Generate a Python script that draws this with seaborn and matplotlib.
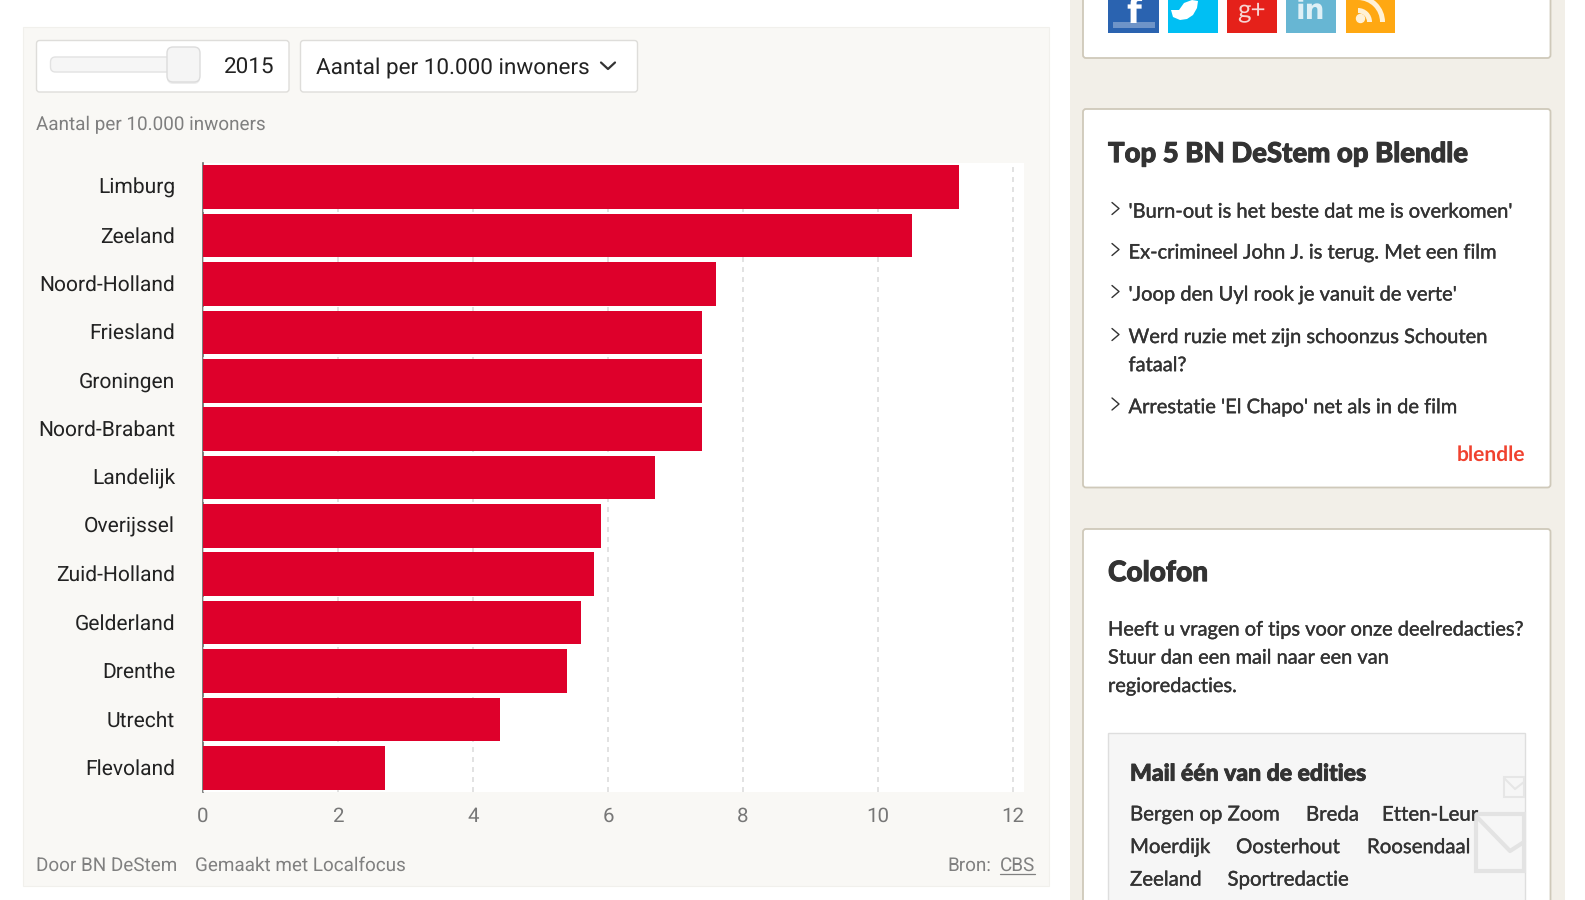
import matplotlib
matplotlib.use('Agg')
import matplotlib.pyplot as plt
import matplotlib.patheffects as pe
from matplotlib.transforms import ScaledTranslation
import seaborn as sns
from matplotlib.patches import Rectangle, FancyBboxPatch, Wedge, Polygon

# Data grafiek
provincies = ['Limburg', 'Zeeland', 'Noord-Holland', 'Friesland', 'Groningen', 'Noord-Brabant',
              'Landelijk', 'Overijssel', 'Zuid-Holland', 'Gelderland', 'Drenthe', 'Utrecht', 'Flevoland']
aantallen = [11.2, 10.5, 7.6, 7.4, 7.4, 7.4, 6.7, 5.9, 5.8, 5.6, 5.4, 4.4, 2.7]
x_ticks = [0, 2, 4, 6, 8, 10, 12]

# Tekst zijbalk
top5 = ["'Burn-out is het beste dat me is overkomen'",
        "Ex-crimineel John J. is terug. Met een film",
        "'Joop den Uyl rook je vanuit de verte'",
        "Werd ruzie met zijn schoonzus Schouten\nfataal?",
        "Arrestatie 'El Chapo' net als in de film"]
colofon = ['Heeft u vragen of tips voor onze deelredacties?',
           'Stuur dan een mail naar een van',
           'regioredacties.']

sns.set_theme(style='white')
plt.rcParams['font.family'] = ['Roboto', 'DejaVu Sans']
plt.rcParams['text.hinting'] = 'no_hinting'

fig = plt.figure(figsize=(15.85, 9), dpi=100, facecolor='white')

# Achtergrondlaag in pixels
bg = fig.add_axes([0, 0, 1, 1])
bg.set_xlim(0, 1585)
bg.set_ylim(900, 0)
bg.axis('off')


def px(size):
    return size * 0.72


def box(x0, y0, x1, y1, face, edge='none', lw=1.0, r=0, **kw):
    if r:
        p = FancyBboxPatch((x0, y0), x1 - x0, y1 - y0, boxstyle='round,pad=0,rounding_size=%s' % r,
                           facecolor=face, edgecolor=edge, linewidth=lw, **kw)
    else:
        p = Rectangle((x0, y0), x1 - x0, y1 - y0, facecolor=face, edgecolor=edge, linewidth=lw, **kw)
    bg.add_patch(p)
    return p


def txt(x, y, s, size, color='#333333', family='Roboto', weight='normal', ha='left', dik=0, **kw):
    t = bg.text(x, y + 2, s, fontsize=px(size), color=color, family=family, weight=weight,
                ha=ha, va='center', **kw)
    if dik:
        t.set_path_effects([pe.withStroke(linewidth=dik, foreground=color)])
    return t


# Paneel van de grafiek
box(23, 27, 1049, 886, '#F9F8F5', edge='#F1F0EC', lw=0.8)

# Schuif en keuzelijst
box(36.5, 40.5, 289, 92, 'white', edge='#DEDDDA', lw=1, r=3)
box(300.5, 40.5, 637.5, 92, 'white', edge='#DEDDDA', lw=1, r=3)
box(50.5, 57, 172, 72, '#F6F6F6', edge='#E2E2E2', lw=1, r=5)
box(167, 49, 200, 84, '#DDDDDD', r=6, alpha=0.5)
box(167, 47, 200, 82, '#F5F5F5', edge='#DCDCDC', lw=1, r=6)
txt(274.5, 65.5, '2015', 22.5, color='#222222', ha='right')
txt(315.5, 65.5, 'Aantal per 10.000 inwoners', 22.5, color='#222222')
bg.plot([601, 608, 615], [62.5, 69, 62.5], color='#333333', lw=1.6)
txt(36, 123, 'Aantal per 10.000 inwoners', 18.9, color='#7F7F7F')

# Voettekst
txt(36, 864, 'Door BN DeStem', 18.9, color='#808080')
txt(195, 864, 'Gemaakt met Localfocus', 18.9, color='#808080')
txt(947, 864, 'Bron:', 18.9, color='#808080')
txt(1000, 864, 'CBS', 18.9, color='#808080')
bg.plot([1000, 1035], [873.5, 873.5], color='#808080', lw=0.9)

# Zijbalk
box(1069.5, 0, 1565, 900, '#F2EFE8')
box(1083, -10, 1550.5, 58, 'white', edge='#CFC9BA', lw=1.3, r=3)
box(1083, 109, 1550.5, 487.5, 'white', edge='#CFC9BA', lw=1.3, r=3)
box(1083, 529, 1550.5, 920, 'white', edge='#CFC9BA', lw=1.3, r=3)

# Sociale knoppen
box(1108, -5, 1159, 32.5, '#2A63B0')
box(1168, -5, 1217.5, 32.5, '#00BFF3')
box(1227, -5, 1276.5, 32.5, '#E5211A')
box(1286, -5, 1336, 32.5, '#67B6D3')
box(1345.5, -5, 1395, 32.5, '#FFA812')
box(1113, 22, 1155, 28, '#6E94C8')
txt(1134, 12, 'f', 34, color='white', family='DejaVu Sans', weight='bold', ha='center')
bg.add_patch(Polygon([(1180, 20), (1173, 17), (1171, 10), (1179, 10), (1184, 3), (1192, 0), (1198, 1),
                      (1197, 8), (1193, 15), (1187, 19)], facecolor='white', edgecolor='none'))
txt(1251, 8, 'g+', 26, color='#F7D5D3', family='Lato', ha='center')
txt(1310.5, 9, 'in', 28, color='#DFF0F6', family='DejaVu Sans', weight='bold', ha='center')
bg.add_patch(plt.Circle((1360.5, 18.5), 4, color='#FFF1D6'))
bg.add_patch(Wedge((1358, 22), 14, 270, 360, width=5, facecolor='#FFF1D6', edgecolor='none'))
bg.add_patch(Wedge((1358, 22), 27, 270, 360, width=5, facecolor='#FFF1D6', edgecolor='none'))

# Top 5
txt(1108, 152, 'Top 5 BN DeStem op Blendle', 27.5, family='Lato', weight='black', dik=0.7)
top5_y = [210, 251, 293, 336, 405.5]
for y, regel in zip(top5_y, top5):
    bg.plot([1112, 1119, 1112], [y - 7.5, y - 1.5, y + 4.5], color='#333333', lw=1.0)
    if '\n' in regel:
        a, b = regel.split('\n')
        txt(1128.5, y - 0.5, a, 20.1, family='Lato', dik=0.25)
        txt(1128.5, y + 27.5, b, 20.1, family='Lato', dik=0.25)
    else:
        txt(1128.5, y, regel, 20.1, family='Lato', dik=0.25)
txt(1525, 453, 'blendle', 21, color='#F0422F', family='Lato', weight='bold', ha='right')

# Colofon
txt(1108, 571, 'Colofon', 28, family='Lato', weight='black', dik=0.7)
for y, regel in zip([628, 656, 684.5], colofon):
    txt(1108, y, regel, 20.0, family='Lato', dik=0.25)

# Mailblok
box(1108, 733, 1525, 915, '#F6F6F6', edge='#DEDEDE', lw=1)
box(1504, 777, 1524, 797, 'none', edge='#E6E6E6', lw=1.5)
bg.plot([1504, 1515, 1524], [778, 789, 782], color='#E6E6E6', lw=1.5)
box(1476, 814, 1524, 871, 'none', edge='#E3E3E3', lw=3)
bg.plot([1476, 1510, 1524], [816, 851, 842], color='#E3E3E3', lw=3)
txt(1130, 772, 'Mail één van de edities', 23, family='Lato', weight='black', dik=0.6)
mail_links = [(1130, 813, 'Bergen op Zoom'), (1306, 813, 'Breda'), (1382, 813, 'Etten-Leur'),
              (1130, 845.5, 'Moerdijk'), (1236, 845.5, 'Oosterhout'), (1367, 845.5, 'Roosendaal'),
              (1130, 878, 'Zeeland'), (1227.5, 878, 'Sportredactie')]
for x, y, naam in mail_links:
    txt(x, y, naam, 20.4, family='Lato', dik=0.25)

# Staafdiagram
ax = fig.add_axes([203 / 1585, 1 - 792 / 900, (1024 - 203) / 1585, (792 - 163) / 900])
ax.set_facecolor('white')
sns.barplot(x=aantallen, y=provincies, orient='h', color='#DE002B', saturation=1, width=0.9,
            linewidth=0, ax=ax)
ax.set_xlim(0, 12.163)
ax.set_ylim(12.5, -0.5)
ax.set_xticks(x_ticks)
ax.set_axisbelow(True)
ax.grid(axis='x', color='#DDDDDD', linewidth=1.2, linestyle=(0, (3, 3)))
ax.grid(axis='y', visible=False)
ax.tick_params(axis='y', length=0, pad=20, labelsize=px(21), labelcolor='#222222')
ax.tick_params(axis='x', length=0, pad=11, labelsize=px(20.5), labelcolor='#777777')
for side in ['top', 'right', 'bottom']:
    ax.spines[side].set_visible(False)
ax.spines['left'].set_color('#666666')
ax.spines['left'].set_linewidth(1.2)
ax.spines['left'].set_zorder(0.5)
# y-labels een pixel omhoog
for label in ax.get_yticklabels():
    label.set_transform(label.get_transform() + ScaledTranslation(0, 1 / 100, fig.dpi_scale_trans))

fig.savefig('out.png', dpi=100)
